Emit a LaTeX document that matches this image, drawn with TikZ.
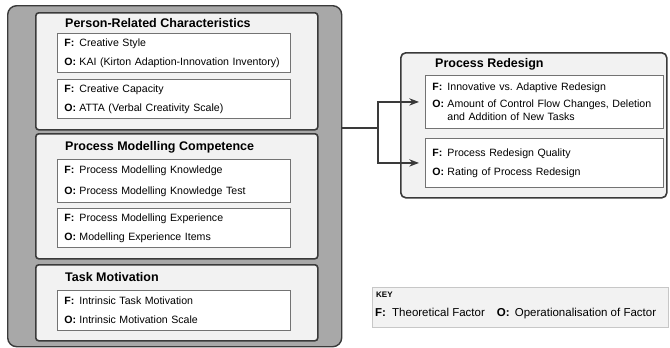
\documentclass[tikz,border=0pt]{standalone}
\usepackage{fontspec}
\setmainfont{Liberation Sans}
\usetikzlibrary{arrows.meta, positioning}
\definecolor{bandgray}{HTML}{A8A8A8}
\definecolor{panelgray}{HTML}{F2F2F2}
\definecolor{edgegray}{HTML}{3A3A3A}

\newcommand{\itemF}{\makebox[15pt][l]{\textbf{F:}}}
\newcommand{\itemO}{\makebox[15pt][l]{\textbf{O:}}}

\begin{document}
\begin{tikzpicture}[x=1pt, y=-1pt, >=Stealth]
  \tikzset{
    outerbox/.style={draw=edgegray, line width=1.4pt, fill=bandgray, rounded corners=9pt,
      anchor=north west, inner sep=0pt, minimum width=334pt, minimum height=341pt},
    groupbox/.style={draw=edgegray, line width=1.6pt, fill=panelgray, rounded corners=3pt,
      anchor=north west, inner sep=0pt},
    grouptitle/.style={anchor=west, inner sep=0pt, font=\bfseries\fontsize{12.5}{14}\selectfont},
    itembox/.style={draw=black!55, line width=0.9pt, fill=white, anchor=north west,
      align=left, inner xsep=7pt, inner ysep=0pt, font=\fontsize{10.6}{13}\selectfont},
    link/.style={draw=edgegray, line width=1.5pt},
  }
  \useasboundingbox (0,0) rectangle (670,348);

  % 1. Vnější šedý rámec se třemi skupinami
  \node[outerbox] (outer) at (7,5) {};

  \node[groupbox, minimum width=282pt, minimum height=117pt] (person) at (35,12) {};
  \node[grouptitle] (personT) at (65,23) {Person-Related Characteristics};
  \node[itembox, text width=219pt, minimum height=39pt] (style) at (57,33)
    {\itemF Creative Style\\[6pt]\itemO KAI (Kirton Adaption-Innovation Inventory)};
  \node[itembox, text width=219pt, minimum height=39pt] (capacity) at (57,79)
    {\itemF Creative Capacity\\[6pt]\itemO ATTA (Verbal Creativity Scale)};

  \node[groupbox, minimum width=282pt, minimum height=125pt] (compet) at (35,133) {};
  \node[grouptitle] (competT) at (65,147) {Process Modelling Competence};
  \node[itembox, text width=219pt, minimum height=43pt] (knowledge) at (57,159)
    {\itemF Process Modelling Knowledge\\[8pt]\itemO Process Modelling Knowledge Test};
  \node[itembox, text width=219pt, minimum height=39pt] (experience) at (57,208)
    {\itemF Process Modelling Experience\\[6pt]\itemO Modelling Experience Items};

  \node[groupbox, minimum width=282pt, minimum height=76pt] (motiv) at (35,264) {};
  \node[grouptitle] (motivT) at (65,277) {Task Motivation};
  \node[itembox, text width=219pt, minimum height=40pt] (intrinsic) at (57,290)
    {\itemF Intrinsic Task Motivation\\[6pt]\itemO Intrinsic Motivation Scale};

  % 2. Skupina vpravo
  \node[groupbox, rounded corners=5pt, minimum width=266pt, minimum height=145pt] (redesign) at (400,52) {};
  \node[grouptitle] (redesignT) at (435,64) {Process Redesign};
  \node[itembox, text width=224pt, minimum height=53pt] (adaptive) at (425,75)
    {\itemF Innovative vs.\ Adaptive Redesign\\[4pt]\itemO Amount of Control Flow Changes, Deletion\\
     \hspace*{15pt}and Addition of New Tasks};
  \node[itembox, text width=224pt, minimum height=49pt] (quality) at (425,138)
    {\itemF Process Redesign Quality\\[6pt]\itemO Rating of Process Redesign};

  % 3. Spojnice
  \coordinate (split) at (378,128);
  \draw[link] (outer.east |- split) -- (split);
  \draw[link, ->, shorten >=6pt] (split) |- (adaptive.west);
  \draw[link, ->, shorten >=6pt] (split) |- (quality.west);

  % 4. Legenda
  \node[draw=black!22, fill=panelgray, anchor=north west, inner sep=0pt,
    minimum width=296pt, minimum height=40pt] (key) at (372,287) {};
  \node[anchor=west, inner sep=0pt, font=\bfseries\fontsize{8}{9}\selectfont] (keyT) at (376,295) {KEY};
  \node[anchor=west, inner sep=0pt, font=\fontsize{11.5}{13}\selectfont] (keyRow) at (375,314)
    {\makebox[17pt][l]{\textbf{F:}}Theoretical Factor\hspace{12pt}\makebox[18pt][l]{\textbf{O:}}Operationalisation of Factor};
\end{tikzpicture}
\end{document}
